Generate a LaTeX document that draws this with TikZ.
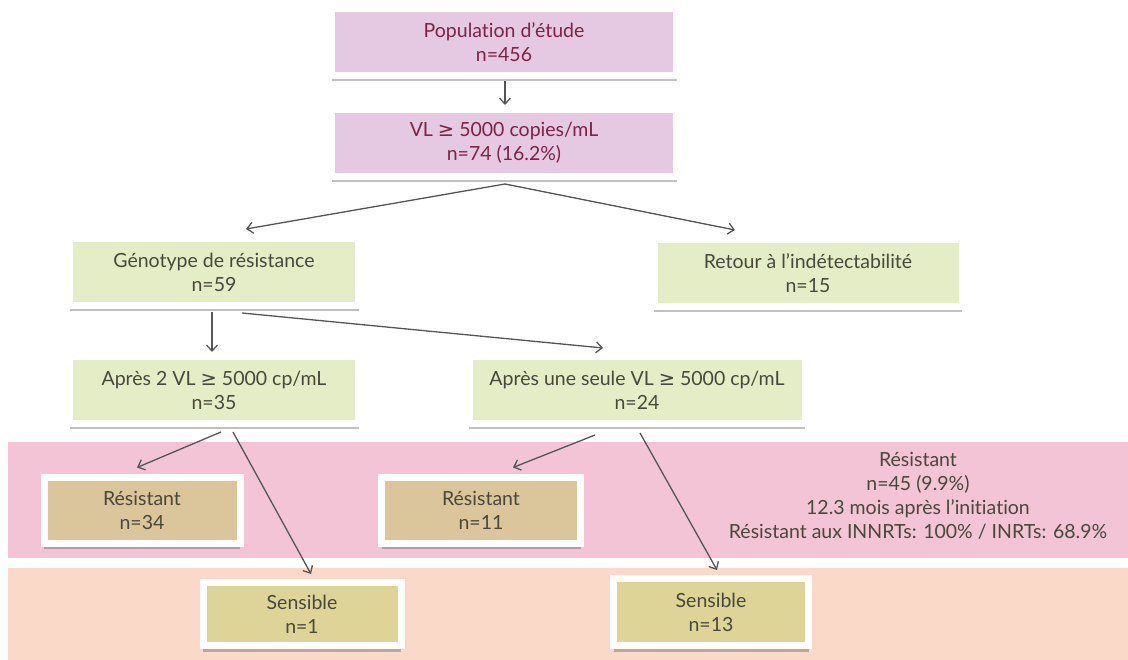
\documentclass[tikz,border=0pt]{standalone}
\usepackage{fontspec}
\setmainfont{Lato}[Ligatures=NoCommon]
\newfontfamily\symfont{DejaVu Sans}
\usetikzlibrary{arrows.meta,calc,shadows}
\newcommand{\gesym}{{\symfont ≥}}

\definecolor{lilac}{RGB}{229,201,227}
\definecolor{plum}{RGB}{123,36,68}
\definecolor{leaf}{RGB}{229,237,199}
\definecolor{slate}{RGB}{72,72,60}
\definecolor{tan}{RGB}{219,197,154}
\definecolor{khaki}{RGB}{222,212,152}
\definecolor{rosebg}{RGB}{242,196,214}
\definecolor{peachbg}{RGB}{250,217,201}
\definecolor{arrowgray}{RGB}{85,85,85}

\begin{document}
\begin{tikzpicture}[x=1pt, y=-1pt,
  font=\fontsize{19.5}{24}\selectfont,
  card/.style={draw=white, line width=7pt, rectangle, align=center, inner sep=0pt,
    drop shadow={shadow xshift=0pt, shadow yshift=-6pt, opacity=.35, fill=black!70}},
  pinkcard/.style={card, fill=lilac, text=plum},
  greencard/.style={card, fill=leaf, text=slate},
  rescard/.style={card, fill=tan, text=slate},
  senscard/.style={card, fill=khaki, text=slate},
  arr/.style={-{Straight Barb[length=6pt, width=11pt]}, draw=arrowgray, line width=1.3pt}]
\useasboundingbox (0,0) rectangle (1128,660);

% background bands
\fill[rosebg] (8,442) rectangle (1128,558);
\fill[peachbg] (8,568) rectangle (1128,660);

% top of the tree
\node (pop) [pinkcard, minimum width=345pt, minimum height=67pt] at (504,42) {Population d’étude\\n=456};
\node (vl) [pinkcard, minimum width=345pt, minimum height=67pt] at (504,143) {VL \gesym\ 5000 copies/mL\\n=74 (16.2\%)};

\node (geno) [greencard, minimum width=289pt, minimum height=67pt] at (214,272) {Génotype de résistance\\n=59};
\node (retour) [greencard, minimum width=308pt, minimum height=67pt] at (808,273) {Retour à l’indétectabilité\\n=15};

\node (apres2) [greencard, minimum width=289pt, minimum height=67pt] at (214,390) {Après 2 VL \gesym\ 5000 cp/mL\\n=35};
\node (seule) [greencard, minimum width=336pt, minimum height=67pt] at (637,390) {Après une seule VL \gesym\ 5000 cp/mL\\n=24};

% outcomes
\node (res34) [rescard, minimum width=196pt, minimum height=66pt] at (142,510) {Résistant\\n=34};
\node (res11) [rescard, minimum width=199pt, minimum height=66pt] at (481,510) {Résistant\\n=11};
\node (sens1) [senscard, minimum width=198pt, minimum height=63pt] at (302,614) {Sensible\\n=1};
\node (sens13) [senscard, minimum width=195pt, minimum height=67pt] at (711,612) {Sensible\\n=13};

\node (bilan) [align=center, text=slate] at (918,496) {Résistant\\n=45 (9.9\%)\\12.3 mois après l’initiation\\Résistant aux INNRTs: 100\% / INRTs: 68.9\%};

\draw[arr] ($(pop.south)+(1,2)$) -- ($(vl.north)+(1,-1)$);
\draw[arr] ($(vl.south)+(1,4)$) -- ($(geno.north)+(32,-6)$);
\draw[arr] ($(vl.south)+(1,4)$) -- ($(retour.north)+(-73,-6)$);
\draw[arr] ($(geno.south)+(-2,3)$) -- ($(apres2.north)+(-2,-1)$);
\draw[arr] ($(geno.south)+(28,4)$) -- ($(seule.north)+(-34,-5)$);
\draw[arr] ($(apres2.south)+(7,5)$) -- ($(res34.north)+(-5,-6)$);
\draw[arr] ($(apres2.south)+(19,5)$) -- ($(sens1.north)+(9,-5)$);
\draw[arr] ($(seule.south)+(-42,8)$) -- ($(res11.north)+(32,-6)$);
\draw[arr] ($(seule.south)+(3,6)$) -- ($(sens13.north)+(6,-5)$);
\end{tikzpicture}
\end{document}
